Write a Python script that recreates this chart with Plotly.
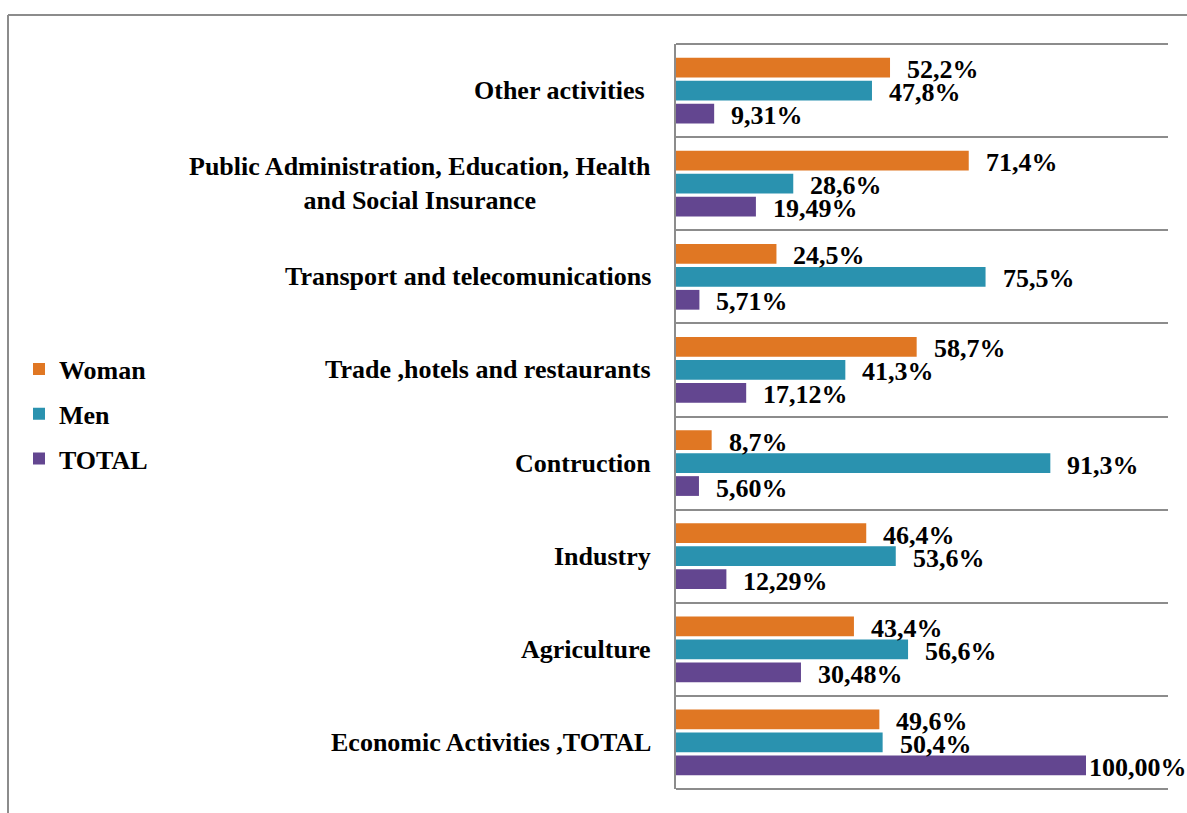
import plotly.graph_objects as go

# Categories, listed bottom to top as they appear on the y axis
categories = [
    "Economic Activities ,TOTAL",
    "Agriculture",
    "Industry",
    "Contruction",
    "Trade ,hotels and restaurants",
    "Transport and telecomunications",
    "Public Administration, Education, Health<br>and Social Insurance",
    "Other activities ",
]

woman = [49.6, 43.4, 46.4, 8.7, 58.7, 24.5, 71.4, 52.2]
men = [50.4, 56.6, 53.6, 91.3, 41.3, 75.5, 28.6, 47.8]
total = [100.00, 30.48, 12.29, 5.60, 17.12, 5.71, 19.49, 9.31]

series_names = ["TOTAL", "Men", "Woman"]
series_values = [total, men, woman]
series_colors = ["#634690", "#2A92AF", "#E07723"]
series_decimals = [2, 1, 1]
legend_ranks = [3, 2, 1]

FONT = "Liberation Serif"
GRID = "#8c8c8c"

# plot area geometry (pixels) used for margins and outer frame
W, H = 1187, 813
L, R, T, B = 676, 19, 44, 24
pw, ph = W - L - R, H - T - B

fig = go.Figure()
for name, vals, col, rank in zip(series_names, series_values, series_colors, legend_ranks):
    fig.add_trace(go.Bar(
        name=name,
        y=categories,
        x=vals,
        orientation="h",
        marker=dict(color=col, line=dict(width=0)),
        legendgroup=name,
        legendrank=rank,
        hoverinfo="x+y",
    ))

# value labels just past each bar end
slot = ph / len(categories) * 0.74 / 3
annotations = []
for i, (vals, dec) in enumerate(zip(series_values, series_decimals)):
    for cat, v in zip(categories, vals):
        label = f"{v:.{dec}f}".replace(".", ",") + "%"
        annotations.append(dict(
            x=v, y=cat, xref="x", yref="y",
            text=f"<b>{label}</b>",
            showarrow=False,
            xanchor="left", yanchor="middle",
            xshift=1 if v >= 100 else 15,
            yshift=(i - 1) * slot - 2,
            font=dict(family=FONT, size=26, color="black"),
        ))

# category labels, centred line by line
for cat in categories:
    annotations.append(dict(
        x=0, y=cat, xref="paper", yref="y",
        text=f"<b>{cat}</b>",
        showarrow=False,
        xanchor="right", yanchor="middle", align="center",
        xshift=-23,
        font=dict(family=FONT, size=26, color="black"),
    ))

# outer frame: top and left edges
def px_x(px):
    return (px - L) / pw

def px_y(py):
    return (H - B - py) / ph

shapes = [
    dict(type="line", xref="paper", yref="paper",
         x0=px_x(8), x1=px_x(W + 5), y0=px_y(15), y1=px_y(15),
         line=dict(color=GRID, width=2)),
    dict(type="line", xref="paper", yref="paper",
         x0=px_x(8), x1=px_x(8), y0=px_y(15), y1=px_y(H + 5),
         line=dict(color=GRID, width=2)),
    # top and bottom edges of the plotting area
    dict(type="line", xref="paper", yref="paper",
         x0=0, x1=1, y0=1, y1=1, line=dict(color=GRID, width=2)),
    dict(type="line", xref="paper", yref="paper",
         x0=0, x1=1, y0=0, y1=0, line=dict(color=GRID, width=2)),
]

fig.update_layout(
    width=W, height=H,
    margin=dict(l=L, r=R, t=T, b=B),
    paper_bgcolor="white",
    plot_bgcolor="white",
    barmode="group",
    bargap=0.26,
    bargroupgap=0.14,
    annotations=annotations,
    shapes=shapes,
    showlegend=True,
    legend=dict(
        x=px_x(19), y=px_y(414), xanchor="left", yanchor="middle",
        traceorder="grouped",
        tracegroupgap=8,
        font=dict(family=FONT, size=26, color="black", weight="bold"),
        bgcolor="rgba(0,0,0,0)",
    ),
    xaxis=dict(range=[0, 120], visible=False, fixedrange=True),
    yaxis=dict(
        showticklabels=False,
        ticks="",
        tickson="boundaries",
        showgrid=True, gridcolor=GRID, gridwidth=2,
        showline=True, linecolor=GRID, linewidth=2,
        zeroline=False,
        range=[-0.5, len(categories) - 0.5],
    ),
)

fig.write_html("out.html")
